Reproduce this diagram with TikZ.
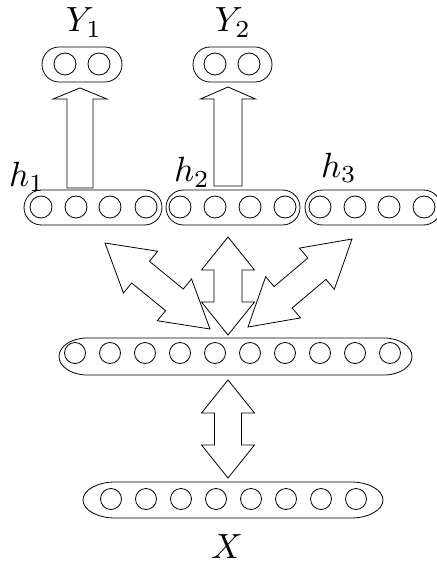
\documentclass[tikz,border=0pt]{standalone}
\usetikzlibrary{calc}
\tikzset{
  unit/.style={draw, circle, minimum size=22pt, inner sep=0pt, line width=0.8pt},
  lay/.style={draw, line width=0.8pt},
  fat/.style={draw, line width=0.8pt, line join=miter},
  lab/.style={scale=3.5, inner sep=0pt, anchor=base}
}
% box from x1 to x2, top y1, bottom y2, end radius rx
\newcommand\layerbox[5]{%
  \draw[lay] ({#1+#5},#3) -- ({#2-#5},#3)
    arc[start angle=-90, end angle=90, x radius=#5, y radius={(#4-#3)/2}]
    -- ({#1+#5},#4)
    arc[start angle=90, end angle=270, x radius=#5, y radius={(#4-#3)/2}] -- cycle;}
% double fat arrow between tips #1 and #2, head length #3, head half #4, shaft half #5
\newcommand\fatdouble[5]{%
  \path (#1) coordinate (ta) (#2) coordinate (tb)
    ($(ta)!#3!(tb)$) coordinate (ha)
    ($(tb)!#3!(ta)$) coordinate (hb);
  \draw[fat] (ta) -- ($(ha)!#4!90:(tb)$) -- ($(ha)!#5!90:(tb)$)
    -- ($(hb)!#5!-90:(ta)$) -- ($(hb)!#4!-90:(ta)$) -- (tb)
    -- ($(hb)!#4!90:(ta)$) -- ($(hb)!#5!90:(ta)$)
    -- ($(ha)!#5!-90:(tb)$) -- ($(ha)!#4!-90:(tb)$) -- cycle;}
% single fat arrow from base #1 to tip #2
\newcommand\fatsingle[5]{%
  \path (#1) coordinate (ta) (#2) coordinate (tb)
    ($(tb)!#3!(ta)$) coordinate (hb);
  \draw[fat] ($(ta)!#5!90:(tb)$) -- ($(hb)!#5!-90:(ta)$) -- ($(hb)!#4!-90:(ta)$) -- (tb)
    -- ($(hb)!#4!90:(ta)$) -- ($(hb)!#5!90:(ta)$) -- ($(ta)!#5!-90:(tb)$) -- cycle;}
\begin{document}
\begin{tikzpicture}[x=1pt, y=-1pt]
\useasboundingbox (0,0) rectangle (436,564);

% output layers
\layerbox{42}{122}{47}{82}{17}
\layerbox{193}{272}{47}{82}{17}
\node[unit] (y1a) at (65,64) {};
\node[unit] (y1b) at (99,64) {};
\node[unit] (y2a) at (215,64) {};
\node[unit] (y2b) at (249,64) {};
\node[lab] (Y1) at (84,32) {$Y_1$};
\node[lab] (Y2) at (233,32) {$Y_2$};

% hidden layers h
\layerbox{24}{162}{190}{225}{17.5}
\layerbox{166}{300}{190}{225}{17.5}
\layerbox{305}{441}{190}{225}{17.5}
\foreach \x [count=\i] in {41,76,110,146} \node[unit] (ha\i) at (\x,207) {};
\foreach \x [count=\i] in {180,215,250,285} \node[unit] (hb\i) at (\x,207) {};
\foreach \x [count=\i] in {320,355,389,424} \node[unit] (hc\i) at (\x,207) {};
\node[lab] (h1) at (27,186) {$h_1$};
\node[lab] (h2) at (192,182) {$h_2$};
\node[lab] (h3) at (339,177) {$h_3$};

% shared layer
\layerbox{59}{412}{338}{375}{28}
\foreach \k in {0,...,9} \node[unit, minimum size=21pt] (m\k) at ({75+35*\k},353) {};

% input layer X
\layerbox{83}{383}{482}{518}{32}
\foreach \k in {0,...,7} \node[unit, minimum size=21pt] (x\k) at ({111+35*\k},499) {};
\node[lab] (X) at (227,558) {$X$};

% arrow end points
\coordinate (a1b) at (80,188);   \coordinate (a1t) at (80,88);
\coordinate (a2b) at (228,186);  \coordinate (a2t) at (228,87);
\coordinate (cU) at (228,237);   \coordinate (cD) at (228,335);
\coordinate (lU) at (105,243);   \coordinate (lD) at (210,329);
\coordinate (rU) at (352,239);   \coordinate (rD) at (248,327);
\coordinate (bU) at (228,380);   \coordinate (bD) at (228,478);

\fatsingle{a1b}{a1t}{11pt}{27pt}{13pt}
\fatsingle{a2b}{a2t}{12pt}{27.5pt}{14pt}
\fatdouble{cU}{cD}{33pt}{26.5pt}{14pt}
\fatdouble{lU}{lD}{46pt}{27pt}{14pt}
\fatdouble{rU}{rD}{46pt}{27pt}{14pt}
\fatdouble{bU}{bD}{33pt}{26.5pt}{13.5pt}
\end{tikzpicture}
\end{document}
